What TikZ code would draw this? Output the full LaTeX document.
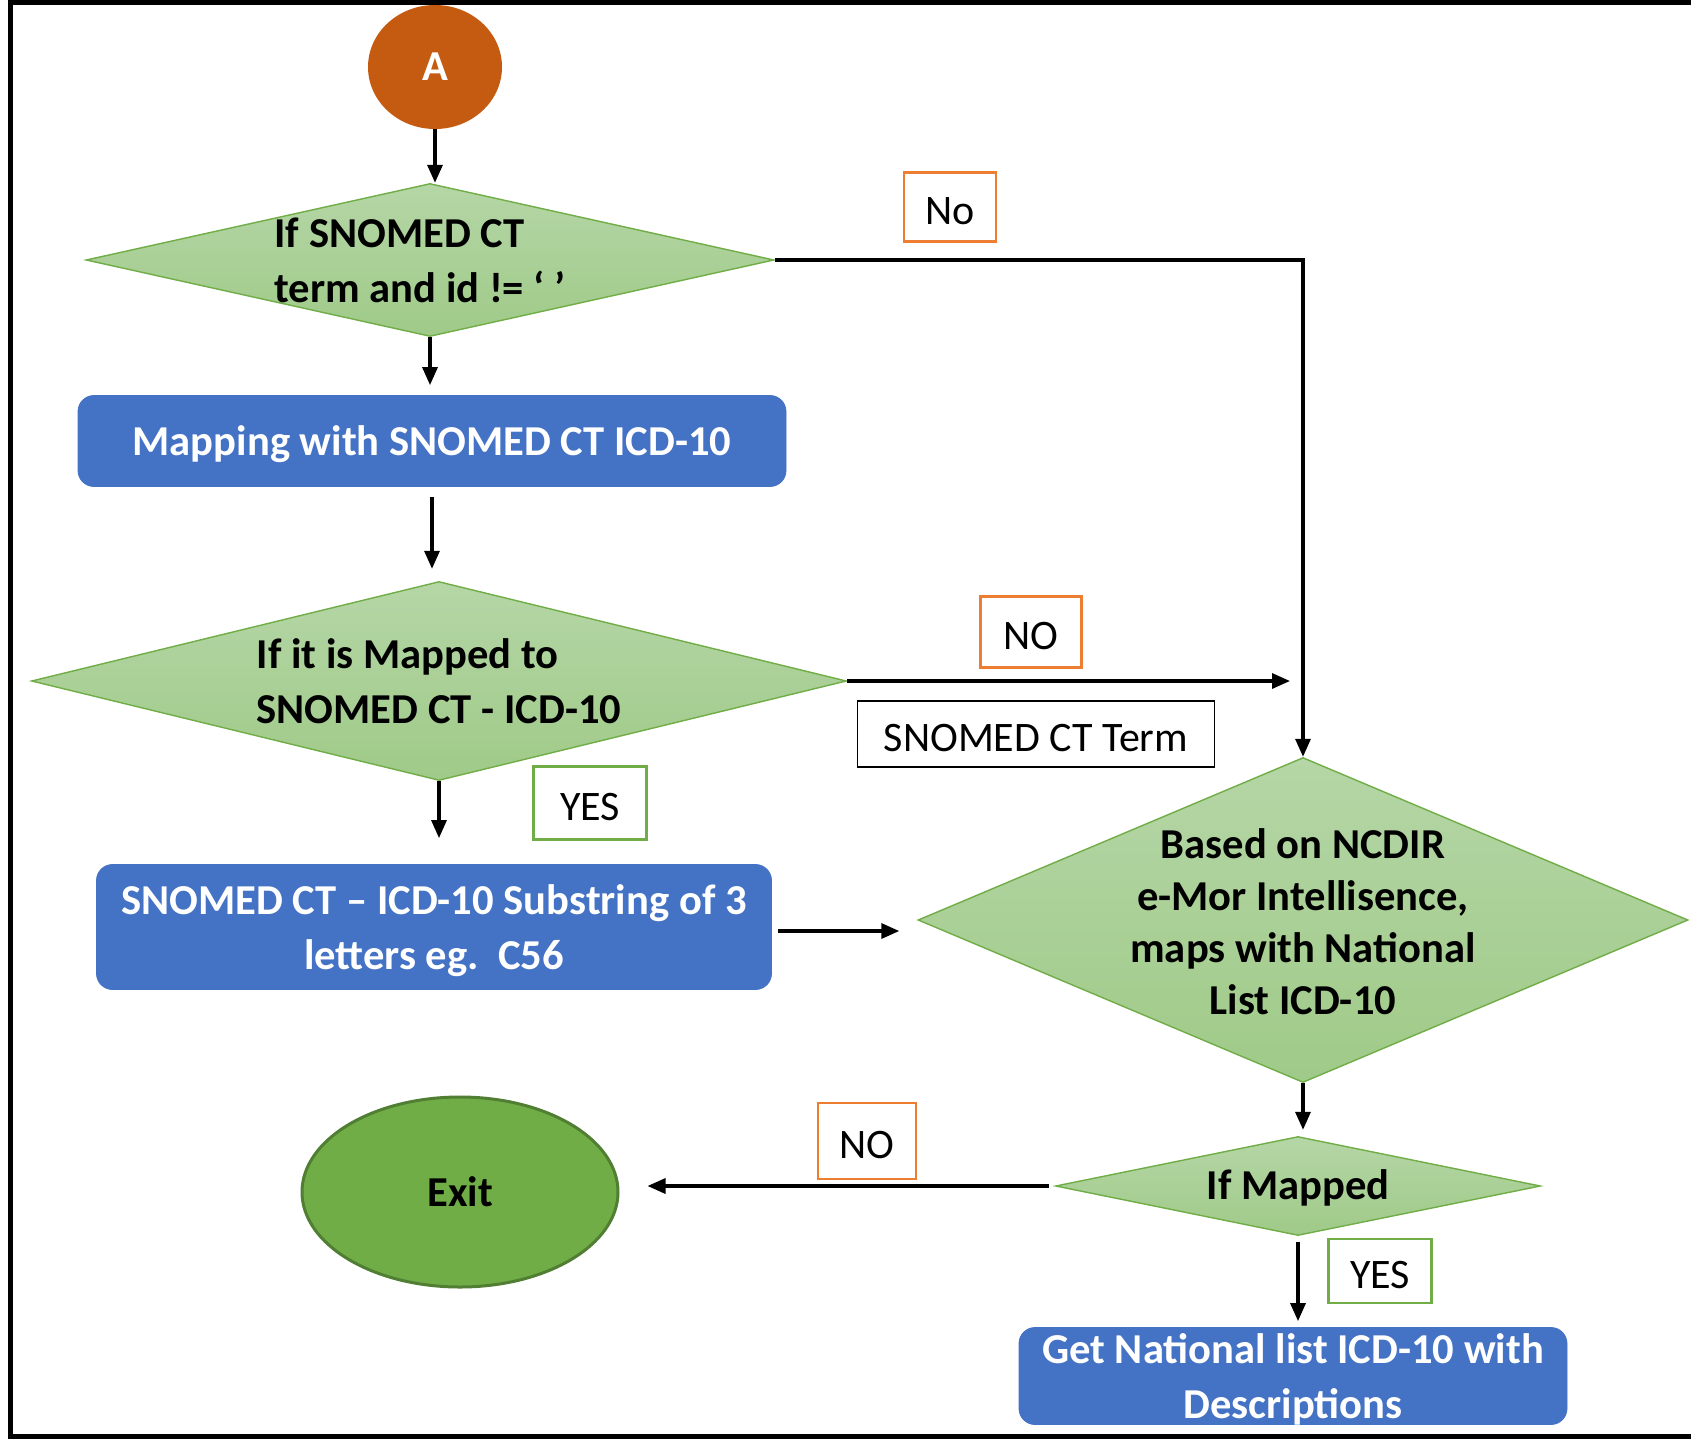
\documentclass[tikz,border=0pt]{standalone}
\usepackage{fontspec}
\setmainfont{Carlito}
\usetikzlibrary{shapes.geometric,arrows.meta}
\definecolor{boxblue}{HTML}{4472C4}
\definecolor{dgreen}{HTML}{70AD47}
\definecolor{dgtop}{HTML}{B5D6A6}
\definecolor{dgbot}{HTML}{9FCA88}
\definecolor{aorange}{HTML}{C55A11}
\definecolor{lorange}{HTML}{ED7D31}
\definecolor{exitborder}{HTML}{507E32}
\begin{document}
\begin{tikzpicture}[x=0.5pt,y=-0.5pt,
  bigtxt/.style={font=\fontsize{21.3}{27.5}\selectfont\bfseries},
  decide/.style={diamond, draw=dgreen, line width=0.7pt, top color=dgtop, bottom color=dgbot, inner sep=0pt},
  process/.style={rectangle, rounded corners=8pt, fill=boxblue, draw=boxblue, text=white, bigtxt, align=center, inner sep=0pt, text depth=0pt},
  tag/.style={rectangle, draw, line width=1.2pt, fill=white, font=\fontsize{21}{25}\selectfont, inner sep=0pt, text height=17pt, text depth=0pt},
  arr/.style={line width=1.6pt, -{Triangle[length=9pt,width=7.5pt]}}]
\useasboundingbox (0,0) rectangle (1691,1440);
\draw[line width=2.5pt] (1691,2) -- (10,2) -- (10,1436) -- (1691,1436);
\node[ellipse, fill=aorange, text=white, bigtxt, minimum width=67pt, minimum height=62pt, inner sep=0pt] (A) at (435,67) {A};
\node[decide, minimum width=344pt, minimum height=76.5pt,
  label={[bigtxt, align=left, xshift=-5pt]center:{If SNOMED CT\\term and id != ‘ ’}}] (d1) at (430,260) {};
\node[process, minimum width=354pt, minimum height=45.5pt] (map) at (432,441) {Mapping with SNOMED CT ICD-10};
\node[decide, minimum width=407.5pt, minimum height=99.5pt,
  label={[bigtxt, align=left]center:{If it is Mapped to\\SNOMED CT - ICD-10}}] (d2) at (439,681) {};
\node[process, minimum width=337.5pt, minimum height=62.5pt] (sub) at (434,927) {SNOMED CT -- ICD-10 Substring of 3\\letters eg.\ \ C56};
\node[decide, minimum width=385pt, minimum height=162.5pt,
  label={[bigtxt, font=\fontsize{21.3}{26}\selectfont\bfseries, align=center, yshift=-1pt]center:{Based on NCDIR\\e-Mor Intellisence,\\maps with National\\List ICD-10}}] (d3) at (1303,920) {};
\node[decide, minimum width=242.5pt, minimum height=49.5pt,
  label={[bigtxt, yshift=-1pt]center:If Mapped}] (d4) at (1298,1186) {};
\node[ellipse, fill=dgreen, draw=exitborder, line width=1.5pt, bigtxt, minimum width=158pt, minimum height=95pt] (exit) at (460,1192) {Exit};
\node[process, minimum width=274pt, minimum height=48.5pt] (natl) at (1293,1376) {Get National list ICD-10 with\\Descriptions};
\node[tag, draw=lorange, minimum width=46pt, minimum height=34.5pt] (no1) at (950,207) {No};
\node[tag, draw=lorange, minimum width=50.5pt, minimum height=35.5pt] (no2) at (1031,632) {NO};
\node[tag, draw=black, line width=0.8pt, minimum width=178.5pt, minimum height=33pt] (term) at (1036,734) {SNOMED CT Term};
\node[tag, draw=dgreen, minimum width=56.5pt, minimum height=36.5pt] (yes1) at (590,803) {YES};
\node[tag, draw=lorange, minimum width=49pt, minimum height=38pt] (no3) at (867,1141) {NO};
\node[tag, draw=dgreen, minimum width=51.5pt, minimum height=32pt] (yes2) at (1380,1271) {YES};
\coordinate (c2) at (1290,681);
\draw[arr] (A.south) -- (A.south |- d1.north);
\draw[arr, shorten >=5pt] (d1.south) -- (d1.south |- map.north);
\draw[arr, shorten <=5pt, shorten >=6pt] (map.south) -- (map.south |- d2.north);
\draw[arr, shorten >=13pt] (d2.south) -- (d2.south |- sub.north);
\draw[arr, shorten <=3pt, shorten >=9pt] (sub.east |- 0,931) -- (d3.west |- 0,931);
\draw[line width=1.6pt, -{Triangle[length=9pt,width=7.5pt]}] (d1.east) -| (d3.north);
\draw[arr] (d2.east) -- (c2);
\draw[arr, shorten >=3pt] (d3.south) -- (d3.south |- d4.north);
\draw[arr, shorten <=3pt, shorten >=14pt] (d4.west) -- (exit.east |- d4.west);
\draw[arr, shorten <=3pt, shorten >=3pt] (d4.south) -- (d4.south |- natl.north);
\end{tikzpicture}
\end{document}
